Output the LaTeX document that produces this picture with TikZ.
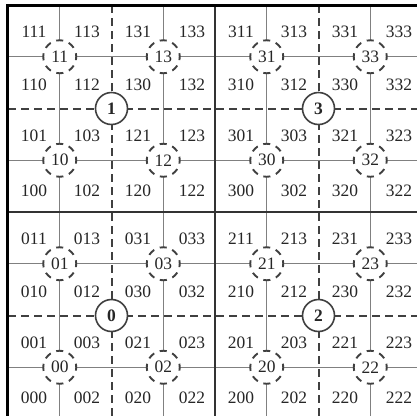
\documentclass[tikz,border=0pt]{standalone}
\usepackage{fontspec}
\setmainfont{Liberation Serif}
\begin{document}
\begin{tikzpicture}[x=1bp,y=-1bp,
  thinline/.style={draw=black!50,line width=1.4bp},
  dashline/.style={draw=black!75,line width=2bp,dash pattern=on 8bp off 5bp},
  thickline/.style={draw=black!80,line width=2.2bp},
  frameline/.style={draw=black,line width=3bp},
  cell/.style={font=\fontsize{17.5}{17.5}\selectfont,text=black!85,inner sep=0pt},
  subnode/.style={circle,minimum size=33bp,inner sep=0pt,fill=white,draw=black!75,line width=1.9bp,dash pattern=on 7bp off 5.96bp,dash phase=3.5bp,text=black!85,font=\fontsize{17.5}{17.5}\selectfont},
  topnode/.style={circle,minimum size=32bp,inner sep=0pt,fill=white,draw=black!75,line width=1.6bp,text=black!85,font=\fontsize{17.5}{17.5}\selectfont\bfseries}]
\useasboundingbox (0,0) rectangle (417,416);
% thin grid lines (level 3)
\foreach \v in {59.75,163.25,266.75,370.25}{
  \draw[thinline] (\v,5) -- (\v,417);
}
\foreach \v in {56.75,160.25,263.75,367.25}{
  \draw[thinline] (8,\v) -- (418,\v);
}
% dashed lines (level 2)
\foreach \v in {111.5,318.5}{
  \draw[dashline] (\v,5) -- (\v,417);
}
\foreach \v in {108.5,315.5}{
  \draw[dashline] (8,\v) -- (418,\v);
}
% thick quadrant lines (level 1)
\draw[thickline] (215,5) -- (215,417);
\draw[thickline] (8,212) -- (418,212);
% outer frame (left and top)
\draw[frameline] (7.5,417) -- (7.5,5) -- (418,5);
% nodes
\foreach \qx/\qy/\q in {8/5/1, 215/5/3, 8/212/0, 215/212/2} {
  \node[topnode] (q\q) at (\qx+103.5,\qy+103.5) {\q};
  \foreach \i/\cx in {0/26,1/79,2/130,3/184} {
    \foreach \j/\ry in {0/27,1/80,2/131,3/186} {
      \pgfmathtruncatemacro\s{2*int(\i/2)+1-int(\j/2)}
      \pgfmathtruncatemacro\c{2*mod(\i,2)+1-mod(\j,2)}
      \node[cell] (c\q\s\c) at (\qx+\cx,\qy+\ry) {\q\s\c};
    }
  }
  \foreach \sx/\sy/\s in {0/0/1, 0/1/0, 1/0/3, 1/1/2} {
    \node[subnode] (s\q\s) at (\qx+51.75+\sx*103.5, \qy+51.75+\sy*103.5) {\q\s};
  }
}
\end{tikzpicture}
\end{document}
